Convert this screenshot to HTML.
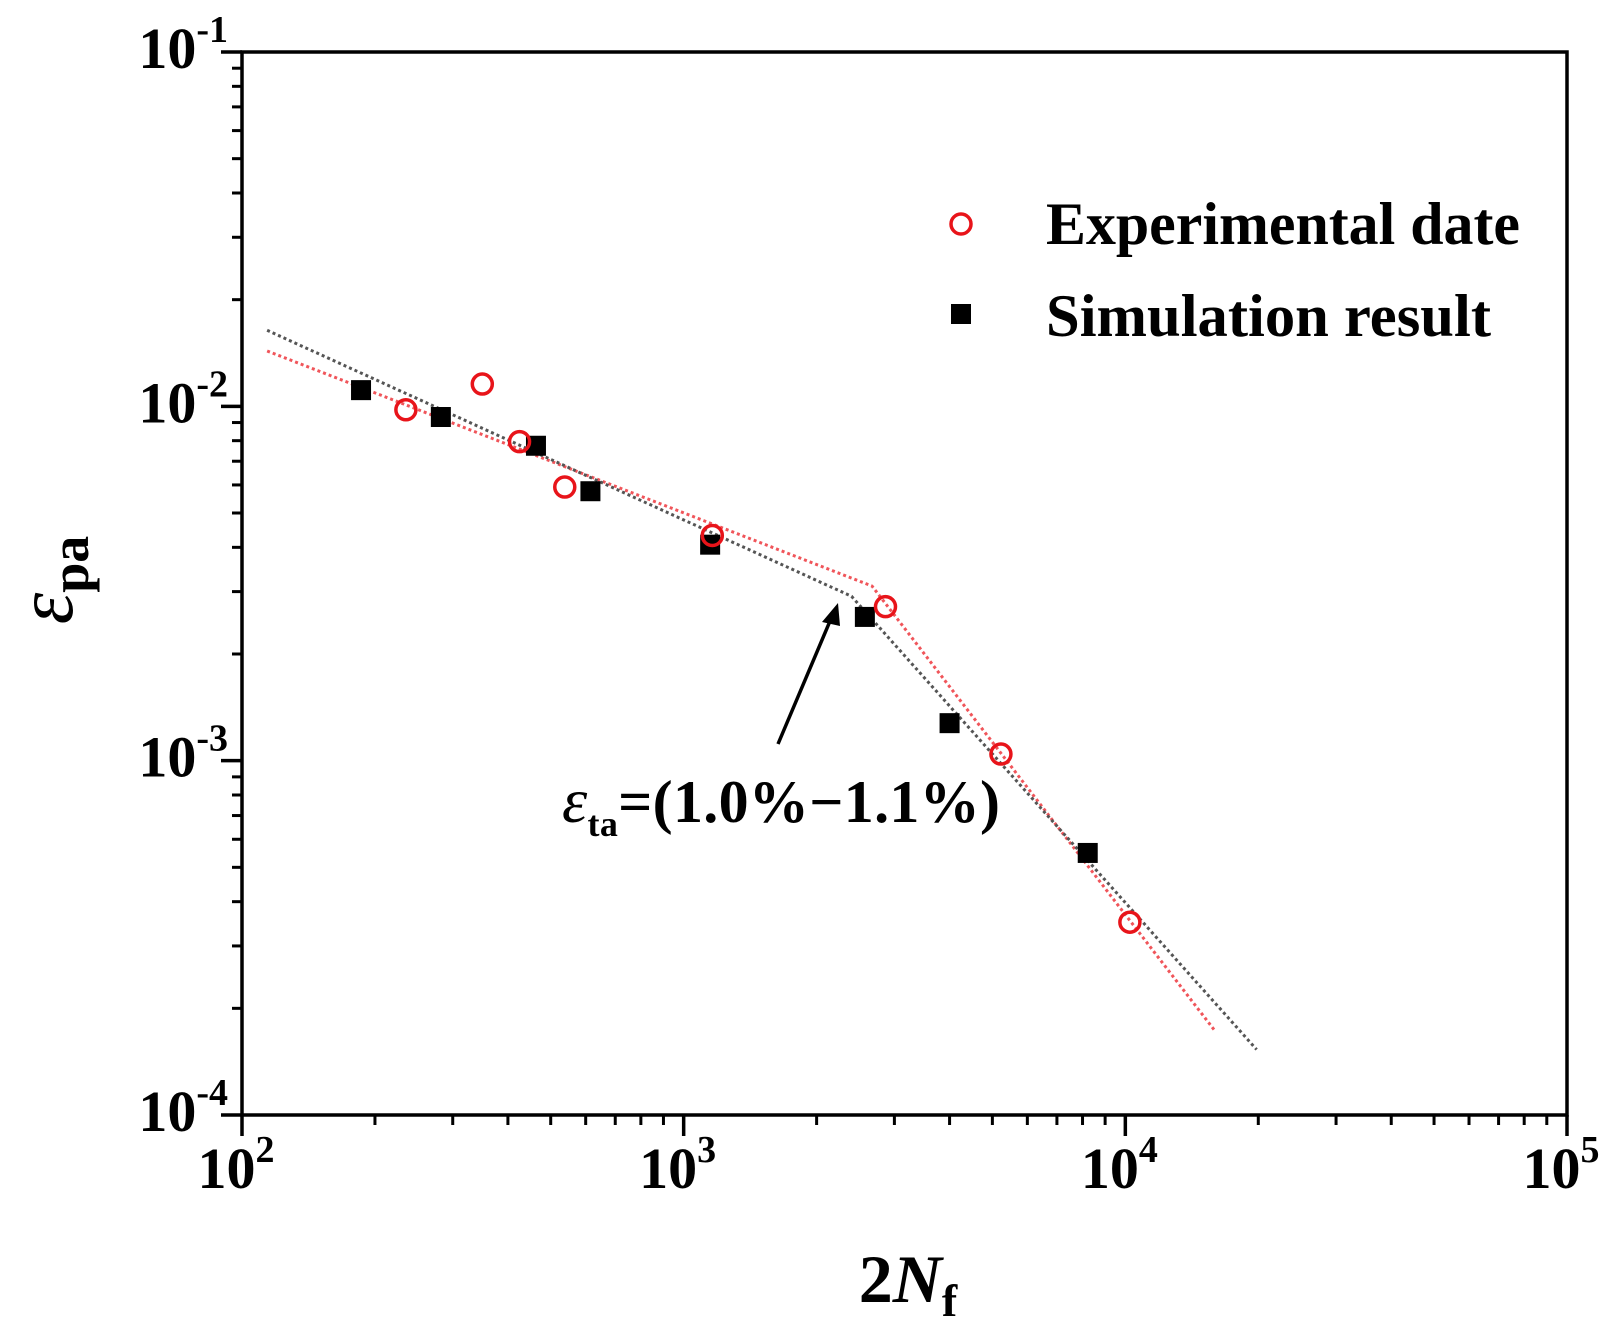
<!DOCTYPE html>
<html><head><meta charset="utf-8"><style>
html,body{margin:0;padding:0;background:#fff;}
svg{display:block;}
text{font-family:"Liberation Serif",serif;font-weight:bold;fill:#000;}
</style></head><body>
<svg id="chart" width="1617" height="1341" viewBox="0 0 1617 1341" xmlns="http://www.w3.org/2000/svg">
<g id="axes"></g>
<g id="fits"></g>
<g id="marks"></g>
<g>
  <line x1="778" y1="744" x2="833" y2="614" stroke="#000" stroke-width="3.5"/>
  <polygon points="838,603 822,622 840,626" fill="#000"/>
  <text x="562" y="822" font-size="60" textLength="438"><tspan font-style="italic" font-weight="normal" font-size="64">ε</tspan><tspan font-size="36" dy="14">ta</tspan><tspan dy="-14">=(1.0%−1.1%)</tspan></text>
</g>
<g>
  <circle cx="961" cy="224" r="10" fill="none" stroke="#e8141a" stroke-width="3.5"/>
  <text x="1046" y="244" font-size="60" textLength="474" lengthAdjust="spacingAndGlyphs">Experimental date</text>
  <rect x="951" y="304" width="20" height="20" fill="#000"/>
  <text x="1046" y="336" font-size="60" textLength="445" lengthAdjust="spacingAndGlyphs">Simulation result</text>
</g>
<text x="908" y="1302" font-size="68" text-anchor="middle">2<tspan font-style="italic">N</tspan><tspan font-size="46" dy="14">f</tspan></text>
<text transform="translate(72,580) rotate(-90)" font-size="60" text-anchor="middle"><tspan font-style="italic" font-weight="normal" font-size="80">ε</tspan><tspan font-size="54" dy="16">pa</tspan></text>
</svg>
<script>
const expX=[235,350,425,538,1161,2864,5228,10240];
const expY=[0.00978,0.01156,0.00795,0.00592,0.00432,0.00272,0.001044,0.00035];
const simX=[186,282,463,615,1148,2572,4000,8220];
const simY=[0.01111,0.00933,0.00774,0.00576,0.00407,0.002545,0.001276,0.000549];
const redFitX=[114,2670,16000];
const redFitY=[0.01433,0.00311,0.000172];
const blackFitX=[114,2399,19830];
const blackFitY=[0.01639,0.00291,0.000153];
const xDecades=[2,3,4,5];
const yDecades=[-4,-3,-2,-1];

const L=242,R=1567,T=52,B=1115;
function sx(v){return L+(Math.log10(v)-2)/3*(R-L);}
function sy(v){return B-(Math.log10(v)+4)/3*(B-T);}
const NS="http://www.w3.org/2000/svg";
function mk(tag,parent,attrs){const e=document.createElementNS(NS,tag);for(const k in attrs)e.setAttribute(k,attrs[k]);parent.appendChild(e);return e;}
const axes=document.getElementById('axes');
const frame=mk('rect',axes,{x:L,y:T,width:R-L,height:B-T,fill:'none',stroke:'#000','stroke-width':3.5});


xDecades.forEach(d=>{
  const x=sx(Math.pow(10,d));
  const t=mk('line',axes,{x1:x,y1:B,x2:x,y2:B+21,stroke:'#000','stroke-width':3.5});
  
  
  const lb=mk('text',axes,{x:x-6,y:1188,'font-size':58,'text-anchor':'middle'});
  
  
  lb.innerHTML='10<tspan font-size="38" dy="-26">'+d+'</tspan>';
  if(d<5){for(let m=2;m<=9;m++){const xm=sx(m*Math.pow(10,d));
    const mt=mk('line',axes,{x1:xm,y1:B,x2:xm,y2:B+10,stroke:'#000','stroke-width':3});
    
    }}
});
yDecades.forEach(d=>{
  const y=sy(Math.pow(10,d));
  const t=mk('line',axes,{x1:L-21,y1:y,x2:L,y2:y,stroke:'#000','stroke-width':3.5});
  
  
  const lb=mk('text',axes,{x:228,y:y+16,'font-size':58,'text-anchor':'end'});
  
  
  lb.innerHTML='10<tspan font-size="38" dy="-26">'+d+'</tspan>';
  if(d<-1){for(let m=2;m<=9;m++){const ym=sy(m*Math.pow(10,d));
    const mt=mk('line',axes,{x1:L-10,y1:ym,x2:L,y2:ym,stroke:'#000','stroke-width':3});
    
    }}
});
const fits=document.getElementById('fits');
const rf=mk('polyline',fits,{points:redFitX.map((x,i)=>sx(x)+','+sy(redFitY[i])).join(' '),fill:'none',stroke:'#f0555a','stroke-width':3,'stroke-dasharray':'3 3'});


const bf=mk('polyline',fits,{points:blackFitX.map((x,i)=>sx(x)+','+sy(blackFitY[i])).join(' '),fill:'none',stroke:'#555','stroke-width':3,'stroke-dasharray':'3 3'});


const marks=document.getElementById('marks');
simX.forEach((x,i)=>{
  const r=mk('rect',marks,{x:sx(x)-10,y:sy(simY[i])-10,width:20,height:20,fill:'#000'});
  
  
});
expX.forEach((x,i)=>{
  const c=mk('circle',marks,{cx:sx(x),cy:sy(expY[i]),r:10,fill:'none',stroke:'#e8141a','stroke-width':3.5});
  
  
});
</script>
</body></html>
